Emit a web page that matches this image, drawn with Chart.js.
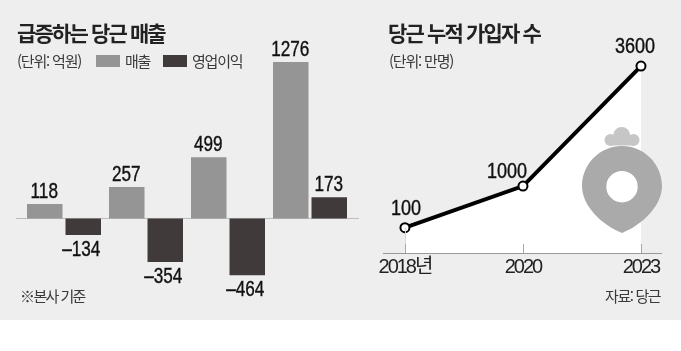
<!DOCTYPE html>
<html lang="ko">
<head>
<meta charset="utf-8">
<script src="https://cdn.jsdelivr.net/npm/chart.js@4"></script>
<style>
    html, body { margin: 0; padding: 0; background: #fff; }
    #panel { position: relative; width: 681px; height: 320px; background: #eeeeee; overflow: hidden; }
    canvas { position: absolute; top: 0; }
    .txt { position: absolute; white-space: nowrap; font-family: "Noto Sans CJK KR", sans-serif; color: #3a3a3a; font-size: 15px; line-height: 18px; letter-spacing: -1.2px; }
    .title { font-size: 21px; font-weight: 700; color: #222; line-height: 24px; letter-spacing: -1.85px; }
    .swatch { position: absolute; width: 24px; height: 12px; top: 55px; }
    #logo { position: absolute; left: 0; top: 0; }
</style>
</head>
<body>
<div id="panel">
    <canvas id="salesChart" width="360" height="320" style="left:0"></canvas>
    <canvas id="usersChart" width="321" height="320" style="left:360px"></canvas>
    <svg id="logo" width="681" height="320">
        <g fill="#c6c6c6">
            <circle cx="621.7" cy="135.5" r="8.5"/>
            <circle cx="610.5" cy="140" r="6"/>
            <circle cx="633.5" cy="140" r="6"/>
            <rect x="610" y="137" width="24" height="8.5"/>
        </g>
        <path fill-rule="evenodd" fill="#aaaaaa" d="M622 146 C644 146 662 164 662 186 C662 206 642 225 622 233 C602 225 582 206 582 186 C582 164 600 146 622 146 Z M622 171 A15.7 15.7 0 1 0 622 202.4 A15.7 15.7 0 1 0 622 171 Z"/>
    </svg>
    <div class="txt title" style="left:17px;top:20px">급증하는 당근 매출</div>
    <div class="txt" style="left:17px;top:52px">(단위: 억원)</div>
    <div class="swatch" style="left:96px;background:#959595"></div>
    <div class="txt" style="left:125px;top:52px">매출</div>
    <div class="swatch" style="left:163px;background:#403b3a"></div>
    <div class="txt" style="left:192px;top:52px">영업이익</div>
    <div class="txt" style="left:20px;top:287px;letter-spacing:-1.6px">※본사 기준</div>
    <div class="txt title" style="left:388px;top:20px">당근 누적 가입자 수</div>
    <div class="txt" style="left:389px;top:52px">(단위: 만명)</div>
    <div class="txt" style="left:605px;top:287px;letter-spacing:-1.4px">자료: 당근</div>
</div>
<script>
    const salesYears = ['2020', '2021', '2022', '2023'];
    const revenue = [118, 257, 499, 1276];
    const operatingProfit = [-134, -354, -464, 173];

    const userYears = ['2018년', '2020', '2023'];
    const users = [100, 1000, 3600];

    const numberFont = '22px "Liberation Sans", sans-serif';
    const formatValue = v => (v < 0 ? '\u2013' + Math.abs(v) : String(v));

    // No condensed face installed, so squeeze the numbers by hand
    const drawNarrow = (ctx, text, x, y, squeeze) => {
        ctx.save();
        ctx.translate(x, y);
        ctx.scale(squeeze, 1);
        ctx.fillText(text, 0, 0);
        ctx.strokeText(text, 0, 0);
        ctx.restore();
    };

    // Value labels above/below the bars
    const barLabels = {
        id: 'barLabels',
        afterDatasetsDraw(chart) {
            const ctx = chart.ctx;
            ctx.save();
            ctx.font = numberFont;
            ctx.fillStyle = '#111';
            ctx.strokeStyle = '#111';
            ctx.lineWidth = 0.4;
            ctx.textAlign = 'center';
            chart.data.datasets.forEach((ds, i) => {
                chart.getDatasetMeta(i).data.forEach((bar, j) => {
                    const v = ds.data[j];
                    ctx.textBaseline = v < 0 ? 'top' : 'bottom';
                    drawNarrow(ctx, formatValue(v), bar.x - (v < 0 ? 2 : 0.5), bar.y + (v < 0 ? 4 : -1.5), 0.78);
                });
            });
            ctx.restore();
        }
    };

    // Axis line runs a bit wider than the category band
    const zeroLine = {
        id: 'zeroLine',
        beforeDatasetsDraw(chart) {
            const ctx = chart.ctx;
            const y = chart.scales.y.getPixelForValue(0);
            ctx.save();
            ctx.strokeStyle = '#bdbdbd';
            ctx.lineWidth = 1;
            ctx.beginPath();
            ctx.moveTo(16, y);
            ctx.lineTo(359, y);
            ctx.stroke();
            ctx.restore();
        }
    };

    new Chart(document.getElementById('salesChart'), {
        type: 'bar',
        data: {
            labels: salesYears,
            datasets: [
                { label: '매출', data: revenue, backgroundColor: '#959595' },
                { label: '영업이익', data: operatingProfit, backgroundColor: '#403b3a' }
            ]
        },
        options: {
            responsive: false,
            animation: false,
            layout: { padding: { left: 23, right: 9, top: 40, bottom: 20 } },
            categoryPercentage: 0.939,
            barPercentage: 0.922,
            scales: {
                x: { display: false },
                y: { display: false, min: -665, max: 1456 }
            },
            plugins: { legend: { display: false }, tooltip: { enabled: false } }
        },
        plugins: [zeroLine, barLabels]
    });

    // Value labels on the line chart
    const pointLabels = {
        id: 'pointLabels',
        afterDatasetsDraw(chart) {
            const ctx = chart.ctx;
            ctx.save();
            ctx.letterSpacing = '0px';
            ctx.font = numberFont;
            ctx.fillStyle = '#111';
            ctx.strokeStyle = '#111';
            ctx.lineWidth = 0.4;
            ctx.textAlign = 'center';
            ctx.textBaseline = 'bottom';
            const nudgeX = [1, -16, -6];
            const nudgeY = [-7.5, -3.5, -8.5];
            chart.getDatasetMeta(0).data.forEach((pt, i) => {
                drawNarrow(ctx, String(users[i]), pt.x + nudgeX[i], pt.y + nudgeY[i], 0.82);
            });
            ctx.restore();
        }
    };

    // Baseline, ticks and the faint drop line under the first point
    const baseLine = {
        id: 'baseLine',
        beforeDraw(chart) {
            chart.ctx.letterSpacing = '-2px';
        },
        beforeDatasetsDraw(chart) {
            chart.ctx.letterSpacing = '0px';
        },
        afterDatasetsDraw(chart) {
            const ctx = chart.ctx;
            const bottom = chart.chartArea.bottom;
            ctx.save();
            ctx.lineWidth = 1;
            chart.getDatasetMeta(0).data.forEach((pt, i) => {
                const x = Math.round(pt.x) + 0.5;
                if (i === 0) {
                    ctx.strokeStyle = '#d8d8d8';
                    ctx.beginPath();
                    ctx.moveTo(x, pt.y);
                    ctx.lineTo(x, bottom);
                    ctx.stroke();
                }
                ctx.strokeStyle = '#a8a8a8';
                ctx.beginPath();
                ctx.moveTo(x, bottom - 9);
                ctx.lineTo(x, bottom);
                ctx.stroke();
            });
            ctx.strokeStyle = '#999';
            ctx.beginPath();
            ctx.moveTo(chart.chartArea.left, bottom + 0.5);
            ctx.lineTo(chart.chartArea.right, bottom + 0.5);
            ctx.stroke();
            ctx.restore();
        }
    };

    new Chart(document.getElementById('usersChart'), {
        type: 'line',
        data: {
            datasets: [{
                data: users.map((v, i) => ({ x: i, y: v })),
                borderColor: '#000',
                borderWidth: 4,
                tension: 0,
                fill: 'start',
                backgroundColor: '#fff',
                pointRadius: 4.5,
                pointBorderWidth: 2,
                pointBackgroundColor: '#fff',
                pointBorderColor: '#000'
            }]
        },
        options: {
            responsive: false,
            animation: false,
            layout: { padding: { left: 23, right: 19, top: 20, bottom: 37 } },
            scales: {
                x: {
                    type: 'linear',
                    min: -0.186,
                    max: 2.178,
                    afterBuildTicks: axis => { axis.ticks = userYears.map((y, i) => ({ value: i })); },
                    afterFit: axis => { axis.height = 30; },
                    grid: { display: false },
                    border: { display: false },
                    ticks: {
                        callback: v => userYears[v],
                        autoSkip: false,
                        maxRotation: 0,
                        color: '#222',
                        padding: -6,
                        font: { family: '"Liberation Sans", "Noto Sans CJK KR", sans-serif', size: 20 }
                    }
                },
                y: { display: false, min: -449, max: 4598 }
            },
            plugins: { legend: { display: false }, tooltip: { enabled: false } }
        },
        plugins: [baseLine, pointLabels]
    });
</script>
</body>
</html>
